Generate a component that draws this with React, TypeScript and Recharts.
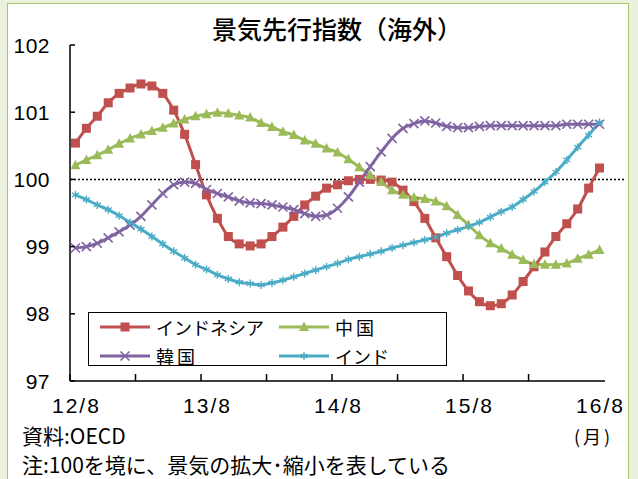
import React from "react";
import { LineChart, Line, XAxis, YAxis, ReferenceLine } from "recharts";

const months = [
  "12/8", "12/9", "12/10", "12/11", "12/12",
  "13/1", "13/2", "13/3", "13/4", "13/5", "13/6", "13/7", "13/8", "13/9", "13/10", "13/11", "13/12",
  "14/1", "14/2", "14/3", "14/4", "14/5", "14/6", "14/7", "14/8", "14/9", "14/10", "14/11", "14/12",
  "15/1", "15/2", "15/3", "15/4", "15/5", "15/6", "15/7", "15/8", "15/9", "15/10", "15/11", "15/12",
  "16/1", "16/2", "16/3", "16/4", "16/5", "16/6", "16/7", "16/8",
];

const tickLabels = ["12/8", "13/8", "14/8", "15/8", "16/8"];
const yTicks = [97, 98, 99, 100, 101, 102];

const indonesia = [
  100.54, 100.76, 100.94, 101.14, 101.28, 101.36, 101.42, 101.39, 101.28, 101.03, 100.67, 100.22,
  99.77, 99.42, 99.15, 99.04, 99.01, 99.04, 99.15, 99.29, 99.45, 99.62, 99.75, 99.87,
  99.92, 99.98, 100.0, 100.0, 99.99, 99.96, 99.84, 99.67, 99.42, 99.13, 98.85, 98.57,
  98.34, 98.18, 98.12, 98.15, 98.28, 98.48, 98.7, 98.92, 99.15, 99.34, 99.56, 99.87, 100.17,
];
const china = [
  100.21, 100.29, 100.36, 100.44, 100.53, 100.61, 100.67, 100.72, 100.77, 100.83, 100.89, 100.94,
  100.97, 100.99, 100.98, 100.95, 100.92, 100.84, 100.78, 100.71, 100.66, 100.58, 100.53, 100.46,
  100.4, 100.3, 100.18, 100.06, 99.96, 99.84, 99.77, 99.73, 99.71, 99.67, 99.6, 99.47,
  99.32, 99.17, 99.05, 98.97, 98.88, 98.8, 98.74, 98.73, 98.73, 98.75, 98.82, 98.88, 98.95,
];
const korea = [
  98.98, 99.0, 99.05, 99.13, 99.22, 99.32, 99.45, 99.62, 99.79, 99.92, 99.96, 99.94,
  99.85, 99.79, 99.74, 99.68, 99.65, 99.64, 99.62, 99.59, 99.55, 99.49, 99.45, 99.47,
  99.57, 99.74, 99.96, 100.19, 100.41, 100.61, 100.76, 100.83, 100.87, 100.84, 100.79, 100.77,
  100.77, 100.79, 100.8, 100.8, 100.8, 100.8, 100.8, 100.8, 100.8, 100.82, 100.82, 100.82, 100.82,
];
const india = [
  99.77, 99.7, 99.62, 99.55, 99.46, 99.36, 99.26, 99.15, 99.04, 98.93, 98.83, 98.73,
  98.66, 98.58, 98.52, 98.47, 98.45, 98.43, 98.46, 98.5, 98.55, 98.6, 98.65, 98.7,
  98.75, 98.81, 98.85, 98.89, 98.93, 98.98, 99.02, 99.06, 99.1, 99.14, 99.2, 99.25,
  99.3, 99.36, 99.44, 99.52, 99.59, 99.7, 99.82, 99.96, 100.11, 100.29, 100.48, 100.66, 100.85,
];

const data = months.map((m, i) => ({
  i,
  month: m,
  indonesia: indonesia[i],
  china: china[i],
  korea: korea[i],
  india: india[i],
}));

// 目盛り線は月の境目(-0.5, 5.5, ...)、ラベルは12か月ごとの中央
const xTicks: number[] = [];
for (let k = 0; k < 8; k++) xTicks.push(k * 6 - 0.5);
for (let k = 0; k < tickLabels.length; k++) xTicks.push(k * 12);
xTicks.sort((a, b) => a - b);

const RED = "#C0504D";
const GREEN = "#9BBB59";
const PURPLE = "#8064A2";
const CYAN = "#4BACC6";

const numFont = "'Liberation Sans', Arial, sans-serif";
const jpFont = "'Noto Sans CJK JP', sans-serif";

function Square({ cx, cy, color }: any) {
  return <rect x={cx - 4.5} y={cy - 4.5} width={9} height={9} fill={color} />;
}
function Triangle({ cx, cy, color }: any) {
  return <polygon points={`${cx},${cy - 5.5} ${cx - 5},${cy + 4} ${cx + 5},${cy + 4}`} fill={color} />;
}
function Cross({ cx, cy, color }: any) {
  return (
    <g stroke={color} strokeWidth={1.6}>
      <line x1={cx - 4.5} y1={cy - 4.5} x2={cx + 4.5} y2={cy + 4.5} />
      <line x1={cx - 4.5} y1={cy + 4.5} x2={cx + 4.5} y2={cy - 4.5} />
    </g>
  );
}
function Star({ cx, cy, color }: any) {
  return (
    <g stroke={color} strokeWidth={1.4}>
      <line x1={cx} y1={cy - 4} x2={cx} y2={cy + 4} />
      <line x1={cx - 3.5} y1={cy - 2} x2={cx + 3.5} y2={cy + 2} />
      <line x1={cx - 3.5} y1={cy + 2} x2={cx + 3.5} y2={cy - 2} />
    </g>
  );
}

const markerDot = (Shape: any, color: string) => (props: any) =>
  props.cx == null ? null : <Shape key={props.key ?? props.index} cx={props.cx} cy={props.cy} color={color} />;

function XTick({ x, y, payload }: any) {
  const v = payload.value;
  if (Number.isInteger(v)) {
    return (
      <text
        x={x + 1}
        y={y + 24}
        textAnchor="middle"
        dominantBaseline="central"
        fontFamily={numFont}
        fontSize={21}
        letterSpacing={2}
        fill="#000"
      >
        {tickLabels[v / 12]}
      </text>
    );
  }
  return <line x1={x} x2={x} y1={y} y2={y - 7} stroke="#000" strokeWidth={1.5} />;
}

function YTick({ x, y, payload }: any) {
  return (
    <g>
      <line x1={x} x2={x + 5} y1={y} y2={y} stroke="#000" strokeWidth={1.5} />
      <text
        x={x - 20}
        y={y}
        textAnchor="end"
        dominantBaseline="central"
        fontFamily={numFont}
        fontSize={21}
        letterSpacing={0.5}
        fill="#000"
      >
        {payload.value}
      </text>
    </g>
  );
}

const legendItems = [
  { name: "インドネシア", color: RED, Shape: Square, left: 10, top: 14 },
  { name: "中国", color: GREEN, Shape: Triangle, left: 189, top: 14 },
  { name: "韓国", color: PURPLE, Shape: Cross, left: 10, top: 43 },
  { name: "インド", color: CYAN, Shape: Star, left: 189, top: 43 },
];

function LegendBox() {
  return (
    <div
      style={{
        position: "absolute",
        left: 88,
        top: 312,
        width: 357,
        height: 52,
        border: "1.5px solid #000",
        background: "#fff",
      }}
    >
      {legendItems.map((it) => (
        <div
          key={it.name}
          style={{ position: "absolute", left: it.left, top: it.top - 14, height: 28, display: "flex", alignItems: "center" }}
        >
          <svg width={52} height={14}>
            <line x1={1} x2={51} y1={7} y2={7} stroke={it.color} strokeWidth={3} />
            <it.Shape cx={26} cy={7} color={it.color} />
          </svg>
          <span
            style={{
              fontFamily: jpFont,
              fontSize: 18,
              marginLeft: 5,
              color: "#000",
              lineHeight: "28px",
              letterSpacing: it.name.length <= 2 ? 3 : 0,
            }}
          >
            {it.name}
          </span>
        </div>
      ))}
    </div>
  );
}

export default function App() {
  return (
    <div style={{ position: "absolute", left: 0, top: 0, width: 638, height: 479, background: "#EAF1DD", overflow: "hidden" }}>
      <div
        style={{
          position: "absolute",
          left: 7,
          top: 3,
          width: 620,
          height: 490,
          background: "#fff",
          border: "1.5px solid #A9C574",
        }}
      />
      <div
        style={{
          position: "absolute",
          left: 0,
          width: 638,
          top: 13,
          textAlign: "center",
          paddingLeft: 36,
          boxSizing: "border-box",
          fontFamily: jpFont,
          fontSize: 25,
          fontWeight: 500,
          lineHeight: "30px",
          color: "#000",
        }}
      >
        景気先行指数（海外）
      </div>
      <div style={{ position: "absolute", left: 0, top: 0 }}>
        <LineChart width={638} height={479} data={data} margin={{ top: 45, right: 33, bottom: 68, left: 10 }}>
          <XAxis
            dataKey="i"
            type="number"
            domain={[-0.5, 48.5]}
            ticks={xTicks}
            interval={0}
            tickLine={false}
            tickSize={0}
            tickMargin={0}
            height={30}
            axisLine={{ stroke: "#000", strokeWidth: 1.5 }}
            tick={<XTick />}
          />
          <YAxis
            type="number"
            domain={[97, 102]}
            ticks={yTicks}
            interval={0}
            width={60}
            tickLine={false}
            tickSize={0}
            tickMargin={0}
            axisLine={{ stroke: "#000", strokeWidth: 1.5 }}
            tick={<YTick />}
          />
          <ReferenceLine
            segment={[{ x: -0.5, y: 100 }, { x: 50.3, y: 100 }]}
            ifOverflow="visible"
            stroke="#000"
            strokeWidth={1.5}
            strokeDasharray="2 2"
          />
          <Line type="monotone" dataKey="indonesia" stroke={RED} strokeWidth={3} dot={markerDot(Square, RED)} isAnimationActive={false} />
          <Line type="monotone" dataKey="china" stroke={GREEN} strokeWidth={3} dot={markerDot(Triangle, GREEN)} isAnimationActive={false} />
          <Line type="monotone" dataKey="korea" stroke={PURPLE} strokeWidth={3} dot={markerDot(Cross, PURPLE)} isAnimationActive={false} />
          <Line type="monotone" dataKey="india" stroke={CYAN} strokeWidth={3} dot={markerDot(Star, CYAN)} isAnimationActive={false} />
        </LineChart>
      </div>
      <LegendBox />
      <div style={{ position: "absolute", left: 574, top: 423, fontFamily: jpFont, fontSize: 18, letterSpacing: 3, color: "#000" }}>
        (月)
      </div>
      <div style={{ position: "absolute", left: 22, top: 421, fontFamily: jpFont, fontSize: 21, lineHeight: "29px", color: "#000" }}>
        資料:OECD
        <br />
        注:100を境に、景気の拡大･縮小を表している
      </div>
    </div>
  );
}
